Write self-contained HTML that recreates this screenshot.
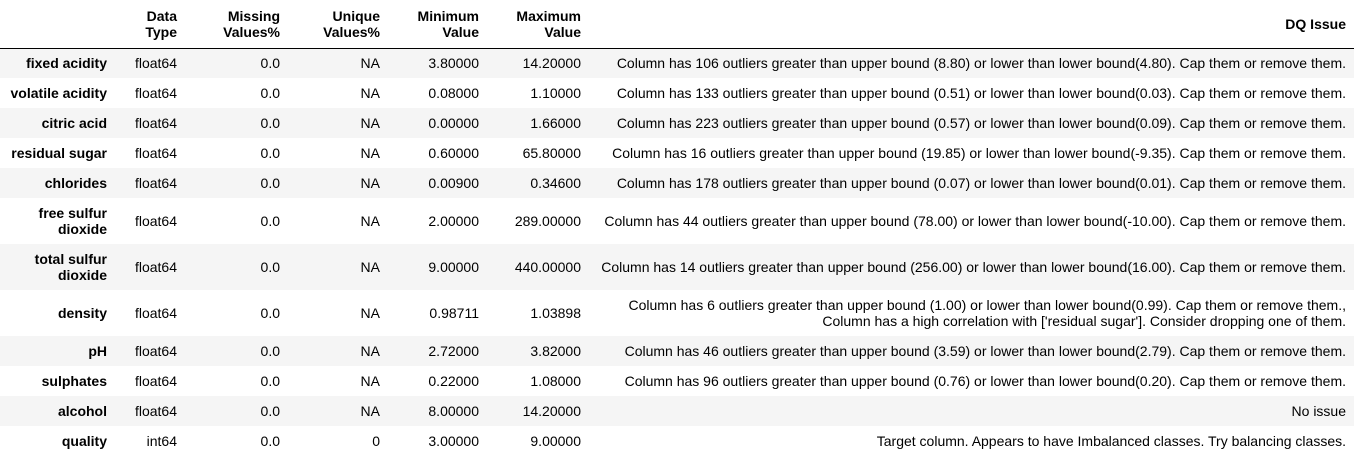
<!DOCTYPE html>
<html><head><meta charset="utf-8"><style>
body{margin:0;background:#fff;font-family:"Liberation Sans",Arial,sans-serif;font-size:14px;color:#000;}
table{border-collapse:collapse;table-layout:fixed;width:1354px;}
td,th{padding:0 8px 0 0;text-align:right;vertical-align:middle;line-height:16px;white-space:nowrap;}
th{font-weight:bold;}
thead tr{height:48px;}
thead th{border-bottom:1px solid #000;vertical-align:middle;}
tbody tr{height:30px;}
tbody tr.tall{height:46px;}
tbody tr:nth-child(odd){background:#f5f5f5;}
tbody th{white-space:normal;}
</style></head><body>
<table>
<colgroup><col style="width:115px"><col style="width:70px"><col style="width:103px"><col style="width:100px"><col style="width:99px"><col style="width:102px"><col style="width:765px"></colgroup>
<thead><tr>
<th></th>
<th>Data<br>Type</th>
<th>Missing<br>Values%</th>
<th>Unique<br>Values%</th>
<th>Minimum<br>Value</th>
<th>Maximum<br>Value</th>
<th>DQ Issue</th>
</tr></thead>
<tbody>
<tr><th>fixed acidity</th><td>float64</td><td>0.0</td><td>NA</td><td>3.80000</td><td>14.20000</td><td>Column has 106 outliers greater than upper bound (8.80) or lower than lower bound(4.80). Cap them or remove them.</td></tr>
<tr><th>volatile acidity</th><td>float64</td><td>0.0</td><td>NA</td><td>0.08000</td><td>1.10000</td><td>Column has 133 outliers greater than upper bound (0.51) or lower than lower bound(0.03). Cap them or remove them.</td></tr>
<tr><th>citric acid</th><td>float64</td><td>0.0</td><td>NA</td><td>0.00000</td><td>1.66000</td><td>Column has 223 outliers greater than upper bound (0.57) or lower than lower bound(0.09). Cap them or remove them.</td></tr>
<tr><th>residual sugar</th><td>float64</td><td>0.0</td><td>NA</td><td>0.60000</td><td>65.80000</td><td>Column has 16 outliers greater than upper bound (19.85) or lower than lower bound(-9.35). Cap them or remove them.</td></tr>
<tr><th>chlorides</th><td>float64</td><td>0.0</td><td>NA</td><td>0.00900</td><td>0.34600</td><td>Column has 178 outliers greater than upper bound (0.07) or lower than lower bound(0.01). Cap them or remove them.</td></tr>
<tr class="tall"><th>free sulfur<br>dioxide</th><td>float64</td><td>0.0</td><td>NA</td><td>2.00000</td><td>289.00000</td><td>Column has 44 outliers greater than upper bound (78.00) or lower than lower bound(-10.00). Cap them or remove them.</td></tr>
<tr class="tall"><th>total sulfur<br>dioxide</th><td>float64</td><td>0.0</td><td>NA</td><td>9.00000</td><td>440.00000</td><td>Column has 14 outliers greater than upper bound (256.00) or lower than lower bound(16.00). Cap them or remove them.</td></tr>
<tr class="tall"><th>density</th><td>float64</td><td>0.0</td><td>NA</td><td>0.98711</td><td>1.03898</td><td>Column has 6 outliers greater than upper bound (1.00) or lower than lower bound(0.99). Cap them or remove them.,<br>Column has a high correlation with ['residual sugar']. Consider dropping one of them.</td></tr>
<tr><th>pH</th><td>float64</td><td>0.0</td><td>NA</td><td>2.72000</td><td>3.82000</td><td>Column has 46 outliers greater than upper bound (3.59) or lower than lower bound(2.79). Cap them or remove them.</td></tr>
<tr><th>sulphates</th><td>float64</td><td>0.0</td><td>NA</td><td>0.22000</td><td>1.08000</td><td>Column has 96 outliers greater than upper bound (0.76) or lower than lower bound(0.20). Cap them or remove them.</td></tr>
<tr><th>alcohol</th><td>float64</td><td>0.0</td><td>NA</td><td>8.00000</td><td>14.20000</td><td>No issue</td></tr>
<tr><th>quality</th><td>int64</td><td>0.0</td><td>0</td><td>3.00000</td><td>9.00000</td><td>Target column. Appears to have Imbalanced classes. Try balancing classes.</td></tr>
</tbody></table>
</body></html>
